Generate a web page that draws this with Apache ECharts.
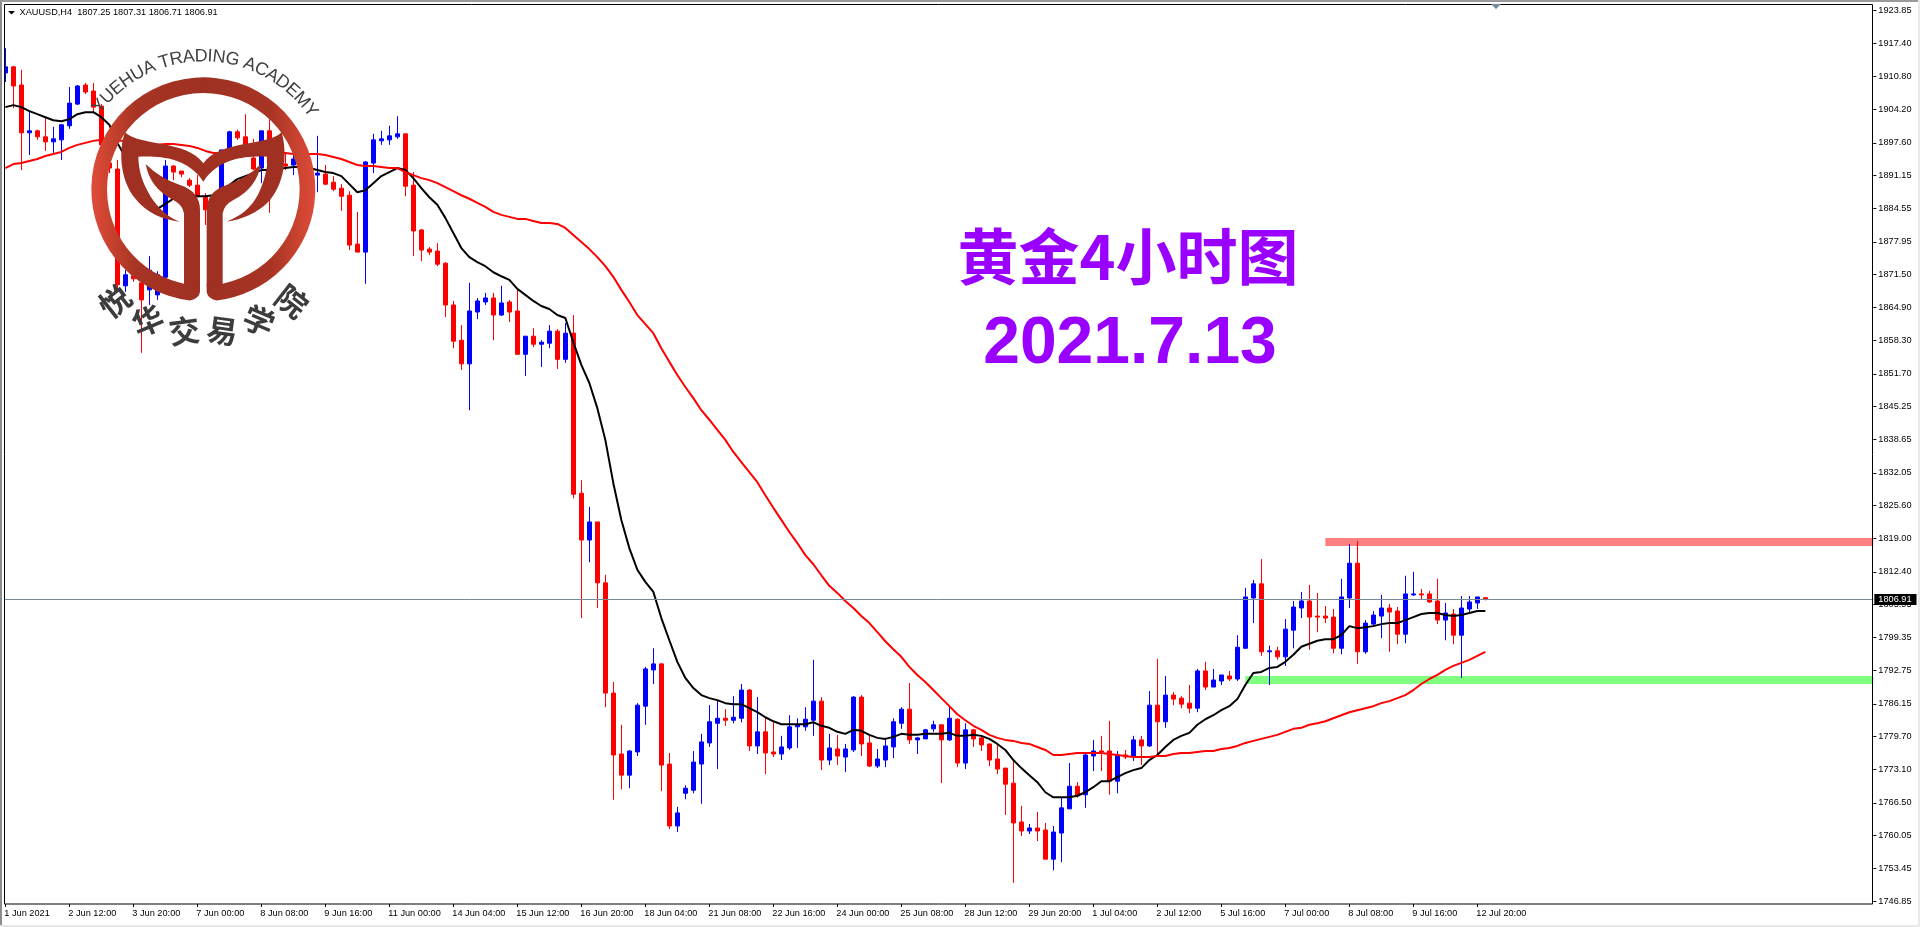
<!DOCTYPE html>
<html><head><meta charset="utf-8"><title>XAUUSD H4</title>
<style>html,body{margin:0;padding:0;background:#fff}#c{width:1920px;height:927px}</style>
<script src="https://cdn.jsdelivr.net/npm/echarts@6/dist/echarts.min.js"></script></head>
<body><div id="c"></div><script>
const opens=[1911.5,1912.7,1909.1,1899.6,1900.0,1898.8,1897.8,1898.2,1901.0,1905.3,
1909.1,1907.9,1904.9,1893.6,1892.4,1869.2,1871.2,1869.8,1868.4,1867.4,
1870.9,1893.0,1892.0,1890.2,1889.2,1886.8,1885.3,1888.2,1895.8,1899.8,
1898.8,1894.6,1892.6,1900.0,1891.2,1893.4,1893.2,1894.2,1891.8,1891.2,
1891.4,1889.8,1888.6,1887.2,1877.5,1875.9,1893.6,1898.0,1898.2,1898.8,
1899.4,1889.2,1880.3,1876.5,1876.1,1873.7,1865.4,1858.4,1853.7,1864.0,
1866.0,1866.8,1863.4,1866.0,1864.2,1855.6,1859.2,1857.6,1857.8,1860.2,
1854.6,1859.8,1828.0,1818.7,1822.3,1810.2,1788.3,1776.2,1772.0,1776.6,
1785.7,1792.9,1794.1,1774.2,1761.9,1768.4,1769.0,1774.2,1778.4,1782.3,
1783.3,1782.9,1783.3,1788.9,1777.8,1780.6,1776.6,1776.2,1777.4,1781.6,
1781.6,1782.9,1786.7,1775.0,1777.2,1775.6,1777.0,1787.5,1778.4,1773.8,
1775.0,1777.6,1782.3,1785.1,1779.0,1779.2,1781.2,1782.0,1779.0,1783.1,
1774.4,1781.0,1779.4,1778.2,1775.2,1773.4,1770.4,1762.7,1760.9,1761.5,
1761.1,1755.3,1760.5,1765.3,1769.8,1768.1,1775.8,1776.8,1776.8,1770.8,
1776.0,1775.8,1779.0,1777.8,1785.9,1782.6,1787.9,1787.3,1786.3,1785.3,
1792.7,1789.5,1790.7,1791.7,1791.1,1797.2,1807.2,1810.0,1796.5,1796.7,
1795.5,1800.8,1805.2,1806.6,1803.6,1803.6,1803.4,1797.2,1807.2,1814.1,
1796.5,1802.0,1803.6,1805.2,1804.6,1800.0,1807.8,1808.0,1808.0,1806.6,
1802.8,1804.0,1799.8,1805.0,1806.2,1807.25];
const closes=[1912.7,1908.9,1899.6,1900.0,1898.8,1897.8,1898.4,1901.2,1905.5,1908.9,
1907.7,1904.7,1897.2,1892.6,1869.4,1871.4,1870.6,1866.4,1872.3,1871.4,
1893.0,1891.8,1891.4,1889.2,1887.0,1884.3,1884.3,1896.2,1899.8,1898.6,
1896.2,1892.4,1900.0,1891.0,1892.6,1893.0,1894.4,1892.6,1893.0,1891.6,
1889.4,1888.4,1887.0,1877.3,1875.9,1893.8,1898.2,1898.4,1899.0,1899.4,
1889.0,1880.1,1876.3,1875.9,1873.5,1865.4,1858.2,1853.7,1864.2,1866.2,
1866.8,1863.4,1865.8,1864.0,1855.6,1859.2,1857.6,1858.0,1860.2,1854.6,
1859.8,1827.8,1818.7,1822.3,1810.2,1788.3,1776.0,1772.0,1776.8,1785.9,
1793.1,1794.1,1774.0,1761.9,1764.5,1769.4,1774.6,1778.6,1782.6,1783.3,
1782.9,1783.5,1788.9,1777.8,1780.6,1776.4,1776.2,1777.6,1781.6,1782.0,
1783.1,1786.7,1775.0,1777.4,1775.8,1777.2,1787.5,1778.2,1773.8,1775.2,
1777.8,1782.6,1785.1,1779.0,1779.4,1781.0,1782.0,1779.0,1783.3,1774.4,
1781.0,1779.2,1778.0,1775.0,1773.2,1770.2,1762.5,1760.9,1761.5,1760.9,
1755.3,1760.7,1765.5,1769.8,1767.9,1776.0,1776.8,1776.6,1770.8,1776.0,
1775.6,1779.0,1777.8,1785.9,1782.6,1787.9,1787.1,1786.1,1785.3,1792.7,
1789.5,1790.9,1791.9,1791.1,1797.4,1807.4,1810.0,1796.5,1796.7,1795.5,
1801.0,1805.4,1806.6,1803.4,1803.4,1803.2,1797.2,1807.4,1814.1,1796.5,
1802.2,1803.8,1805.2,1804.4,1800.0,1808.0,1808.0,1807.8,1806.4,1802.8,
1804.2,1799.8,1805.2,1806.4,1807.4,1806.91];
const lows=[1909.7,1904.5,1892.2,1895.2,1898.2,1896.0,1895.6,1894.2,1900.4,1905.1,
1907.3,1903.5,1896.2,1891.6,1868.4,1868.0,1870.0,1855.9,1865.4,1866.4,
1870.7,1890.2,1890.8,1888.8,1886.8,1881.3,1883.5,1887.2,1895.2,1898.2,
1895.8,1892.2,1889.6,1883.7,1890.2,1892.2,1891.2,1891.8,1891.0,1887.8,
1889.2,1888.0,1884.1,1876.3,1875.9,1869.6,1891.6,1897.2,1897.2,1898.4,
1887.0,1875.1,1874.1,1875.3,1873.1,1863.0,1856.8,1852.5,1844.5,1862.6,
1865.4,1858.4,1863.2,1862.0,1855.6,1851.3,1857.0,1853.1,1856.8,1852.7,
1853.9,1827.0,1803.2,1814.3,1805.2,1785.5,1767.1,1769.2,1769.4,1775.8,
1782.0,1790.1,1768.8,1761.3,1760.7,1767.2,1768.4,1766.3,1777.6,1773.2,
1781.8,1782.3,1782.5,1776.8,1776.2,1772.2,1775.6,1775.0,1777.0,1777.4,
1780.8,1779.8,1773.0,1774.0,1774.0,1772.6,1776.6,1775.8,1773.6,1773.4,
1773.6,1775.4,1781.2,1778.2,1776.2,1779.2,1780.6,1770.4,1778.8,1773.6,
1773.2,1777.6,1776.8,1773.8,1772.2,1764.1,1750.6,1759.9,1760.3,1758.9,
1755.3,1753.1,1754.7,1765.3,1767.5,1765.5,1772.8,1772.8,1768.1,1768.4,
1775.2,1774.8,1774.0,1777.6,1776.0,1781.4,1785.9,1785.3,1784.3,1784.5,
1788.9,1789.5,1789.9,1790.7,1790.7,1797.2,1802.2,1795.7,1789.9,1794.9,
1793.7,1797.2,1803.2,1796.9,1800.4,1802.2,1796.2,1796.0,1805.2,1794.1,
1796.1,1801.6,1799.2,1796.5,1798.0,1798.2,1807.6,1807.0,1806.2,1802.0,
1798.8,1798.0,1791.3,1804.0,1805.0,1806.71];
const highs=[1916.4,1912.9,1912.1,1903.7,1900.2,1902.5,1900.8,1901.2,1908.7,1909.1,
1909.5,1909.5,1905.3,1894.2,1894.2,1872.4,1872.8,1871.4,1875.1,1872.1,
1894.2,1893.2,1892.0,1890.6,1891.2,1887.6,1885.7,1896.2,1900.0,1900.2,
1903.3,1898.4,1900.0,1902.3,1894.2,1895.8,1896.2,1896.2,1894.2,1899.0,
1893.2,1891.0,1889.4,1888.0,1883.9,1894.0,1899.4,1900.0,1901.0,1902.9,
1899.4,1891.8,1880.5,1876.9,1877.7,1873.9,1866.2,1861.4,1869.8,1866.8,
1867.8,1867.8,1869.2,1866.4,1868.4,1859.2,1860.8,1858.4,1861.4,1860.6,
1861.8,1863.4,1830.6,1825.3,1822.3,1811.8,1790.5,1782.0,1777.0,1786.3,
1793.5,1797.2,1794.3,1776.4,1765.7,1770.0,1776.8,1780.2,1785.9,1786.9,
1785.1,1787.7,1790.1,1789.1,1787.5,1783.5,1782.5,1779.8,1783.9,1783.3,
1785.5,1794.9,1787.5,1780.2,1780.0,1778.2,1787.7,1787.9,1779.8,1777.2,
1779.4,1783.3,1785.5,1790.3,1779.6,1781.2,1782.8,1782.0,1785.7,1783.3,
1782.3,1781.2,1780.0,1778.2,1778.2,1773.4,1775.0,1765.9,1762.3,1764.7,
1762.5,1761.9,1767.6,1774.4,1770.6,1776.2,1779.0,1779.8,1782.8,1776.8,
1777.0,1779.8,1779.8,1788.7,1795.1,1791.7,1788.5,1787.7,1789.9,1793.1,
1794.5,1793.1,1791.9,1792.7,1799.8,1809.2,1810.8,1814.9,1797.7,1797.5,
1803.0,1806.6,1808.4,1809.8,1808.2,1805.6,1805.0,1811.0,1817.9,1818.5,
1802.8,1804.6,1807.8,1806.0,1805.4,1811.6,1812.4,1809.0,1808.6,1811.0,
1806.2,1805.0,1807.6,1807.6,1807.4,1807.31];
const fastMA=[1904.7,1905.1,1904.7,1903.9,1903.3,1902.7,1902.1,1901.9,1902.3,1903.3,
1903.7,1903.7,1902.7,1901.2,1897.6,1894.8,1891.8,1889.8,1886.8,1884.5,
1885.5,1886.5,1886.8,1887.2,1887.0,1887.0,1887.2,1888.2,1889.2,1890.4,
1891.0,1891.6,1892.2,1892.2,1892.4,1892.6,1892.8,1892.8,1892.6,1892.2,
1891.8,1891.6,1891.0,1889.4,1887.8,1888.2,1889.6,1891.0,1891.8,1892.6,
1892.2,1890.6,1888.6,1886.8,1885.3,1882.7,1879.7,1876.7,1874.9,1873.9,
1873.1,1871.9,1871.1,1870.4,1868.6,1867.4,1866.2,1865.2,1864.6,1863.4,
1862.8,1858.0,1853.5,1849.9,1844.9,1838.6,1830.0,1822.7,1817.1,1812.8,
1810.4,1808.4,1803.2,1798.8,1794.5,1791.3,1789.3,1787.9,1787.3,1786.9,
1786.3,1786.1,1786.1,1785.3,1784.5,1783.5,1782.7,1782.1,1782.1,1782.1,
1782.1,1782.5,1781.8,1781.4,1780.6,1780.2,1781.0,1780.8,1780.0,1779.4,
1779.2,1779.6,1780.2,1780.0,1780.0,1780.2,1780.2,1780.2,1780.4,1779.8,
1779.8,1780.0,1779.8,1779.2,1778.2,1777.0,1775.0,1773.4,1772.0,1770.6,
1768.6,1767.6,1767.6,1767.6,1767.9,1768.6,1769.6,1770.8,1770.8,1771.6,
1772.4,1773.0,1773.4,1775.0,1776.0,1777.6,1779.0,1779.8,1780.4,1782.0,
1783.1,1783.9,1784.9,1785.7,1787.1,1789.9,1792.3,1792.5,1793.3,1793.5,
1794.5,1795.9,1797.5,1798.1,1798.7,1799.0,1799.0,1799.8,1801.6,1801.2,
1801.4,1801.6,1802.0,1802.2,1802.2,1802.8,1803.4,1804.0,1804.2,1804.2,
1803.8,1803.6,1803.8,1804.2,1804.6,1804.6];
const slowMA=[1892.6,1893.4,1893.6,1894.0,1894.4,1895.0,1895.4,1895.8,1896.6,1897.2,
1897.6,1898.0,1898.2,1898.2,1898.0,1898.0,1897.6,1897.6,1897.4,1897.2,
1897.4,1897.4,1897.2,1897.0,1896.6,1896.0,1895.6,1895.6,1895.6,1895.6,
1895.6,1895.6,1895.6,1895.6,1895.6,1895.6,1895.4,1895.4,1895.4,1895.4,
1895.2,1894.8,1894.4,1893.8,1893.2,1893.0,1893.0,1892.8,1892.6,1892.6,
1891.8,1891.2,1890.6,1890.2,1889.6,1888.8,1888.0,1887.2,1886.5,1885.7,
1884.9,1883.9,1883.3,1882.9,1882.5,1882.5,1882.1,1881.7,1881.7,1881.5,
1880.7,1879.3,1877.9,1876.5,1874.9,1873.1,1871.0,1868.4,1866.0,1863.4,
1861.6,1859.8,1856.8,1854.1,1851.5,1849.1,1846.9,1844.5,1842.6,1840.6,
1838.6,1836.2,1834.2,1832.2,1830.2,1827.6,1825.1,1822.7,1820.3,1818.1,
1815.7,1813.9,1811.7,1809.6,1808.2,1806.6,1805.2,1803.6,1802.2,1800.4,
1798.6,1797.0,1795.5,1793.5,1791.9,1790.5,1788.9,1787.3,1785.7,1784.1,
1782.9,1781.8,1781.0,1780.0,1779.4,1779.0,1778.8,1778.4,1778.2,1777.6,
1777.0,1776.0,1776.0,1776.2,1776.4,1776.4,1776.4,1776.4,1776.2,1776.0,
1775.8,1775.6,1775.6,1775.6,1775.8,1775.8,1776.2,1776.4,1776.4,1776.6,
1776.8,1776.8,1777.2,1777.4,1777.8,1778.4,1778.8,1779.2,1779.6,1780.0,
1780.6,1781.2,1781.4,1782.0,1782.3,1782.7,1783.3,1783.9,1784.5,1784.9,
1785.3,1785.7,1786.3,1786.7,1787.3,1787.9,1788.9,1790.1,1791.1,1791.9,
1792.9,1793.7,1794.3,1794.9,1795.7,1796.5];
const dateLabels=['1 Jun 2021','2 Jun 12:00','3 Jun 20:00','7 Jun 00:00','8 Jun 08:00','9 Jun 16:00','11 Jun 00:00','14 Jun 04:00','15 Jun 12:00','16 Jun 20:00','18 Jun 04:00','21 Jun 08:00','22 Jun 16:00','24 Jun 00:00','25 Jun 08:00','28 Jun 12:00','29 Jun 20:00','1 Jul 04:00','2 Jul 12:00','5 Jul 16:00','7 Jul 00:00','8 Jul 08:00','9 Jul 16:00','12 Jul 20:00'];
const priceTicks=[1923.85,1917.40,1910.80,1904.20,1897.60,1891.15,1884.55,1877.95,1871.50,1864.90,1858.30,1851.70,1845.25,1838.65,1832.05,1825.60,1819.00,1812.40,1805.95,1799.35,1792.75,1786.15,1779.70,1773.10,1766.50,1760.05,1753.45,1746.85];
const levelStarts=[165,155];
const levelTops=[1819.1,1791.7];
const levelBottoms=[1817.5,1790.1];
const levelColors=['#FF8080','#80FF80'];
const lastPrice=1806.91;
const headerText='XAUUSD,H4  1807.25 1807.31 1806.71 1806.91';
const titleLines=['黄金4小时图','2021.7.13'];
const academyEn='YUEHUA TRADING ACADEMY';
const academyCn='悦华交易学院';

const SLOTS=234;
const categories=Array.from({length:SLOTS},(_,i)=>(i%8===0&&dateLabels[i/8])||'');
const candles=opens.map((o,i)=>[o,closes[i],lows[i],highs[i]]);
const FONT='"Liberation Sans",Arial,sans-serif';
const showLabel=(i,v)=>v!=='';

const ringFill=new echarts.graphic.LinearGradient(0,0,1,0,[
 {offset:0,color:'#E04B3B'},{offset:.08,color:'#C9432F'},{offset:.2,color:'#A83424'},
 {offset:.5,color:'#9E3022'},{offset:.8,color:'#A83424'},{offset:.92,color:'#C9432F'},{offset:1,color:'#E04B3B'}]);
const DARK='#A03022';
const PATH_RING='M600 851L600 875Q598 895 570 901.6A336 336 0 1 1 650 901.6Q622 895 620 875L620 851L668 851A289 289 0 1 0 552 851Z';
const PATH_WING='M375 397C420 440 560 420 610 490C660 420 800 440 845 397C860 450 860 540 810 600C775 640 720 660 680 665C740 640 790 600 805 470C760 468 660 465 610 545C560 465 460 468 415 470C415 550 470 640 540 665C490 660 440 640 405 595C360 540 355 450 375 397Z';
const PATH_STEM_L='M552 860L552 640Q548 615 520 600Q450 565 437 492Q480 535 540 555Q600 575 600 630L600 860Z';
const PATH_STEM_R='M668 860L668 640Q672 615 700 600Q770 565 783 492Q740 535 680 555Q620 575 620 630L620 860Z';
const LX=203.3,LY=189.3;

function logoChildren(){
  const kids=[{type:'group',scaleX:1/3,scaleY:1/3,children:[
    {type:'path',shape:{pathData:PATH_RING},style:{fill:ringFill}},
    {type:'path',shape:{pathData:PATH_WING},style:{fill:DARK}},
    {type:'path',shape:{pathData:PATH_STEM_L},style:{fill:DARK}},
    {type:'path',shape:{pathData:PATH_STEM_R},style:{fill:DARK}}]}];
  const ctx=document.createElement('canvas').getContext('2d');
  const enFont='18px '+FONT;ctx.font=enFont;
  const total=ctx.measureText(academyEn).width,R=133;
  const span=110*Math.PI/180;
  let adv=0;
  for(const ch of academyEn){
    const w=ctx.measureText(ch).width;
    const t=((adv+w/2)/total-.5)*span+1.2*Math.PI/180;adv+=w;
    kids.push({type:'text',x:LX+R*Math.sin(t),y:LY-R*Math.cos(t),rotation:-t,
      style:{text:ch,font:enFont,fill:'#404040',align:'center',verticalAlign:'middle'}});
  }
  const cnFont='bold 31px "Noto Sans CJK SC"';
  [...academyCn].forEach((ch,i)=>{
    const t=(i-2.5)*15.3*Math.PI/180,r=142.7;
    kids.push({type:'text',x:LX+r*Math.sin(t),y:LY+r*Math.cos(t),rotation:-t,
      style:{text:ch,font:cnFont,fill:'#3C3C3C',align:'center',verticalAlign:'middle'}});
  });
  return kids;
}

const chart=echarts.init(document.getElementById('c'),null,{renderer:'canvas',width:1920,height:927});
chart.setOption({
 animation:false,backgroundColor:'#fff',
 grid:{left:1.33,top:4.5,width:8*SLOTS,height:899.5,containLabel:false},
 xAxis:{type:'category',data:categories,boundaryGap:true,
  axisLine:{show:false},
  axisTick:{show:true,alignWithLabel:true,interval:showLabel,length:3,lineStyle:{color:'#000',width:1}},
  axisLabel:{show:true,interval:showLabel,align:'left',margin:5,padding:[0,0,0,-1],hideOverlap:false,color:'#000',fontFamily:FONT,fontSize:9.2},
  splitLine:{show:false}},
 yAxis:{type:'value',position:'right',min:1746.40,max:1925.09,scale:true,
  axisLine:{show:false},splitLine:{show:false},
  axisTick:{show:true,length:3,customValues:priceTicks,lineStyle:{color:'#000',width:1}},
  axisLabel:{show:true,margin:5,customValues:priceTicks,formatter:v=>v.toFixed(2),color:'#000',fontFamily:FONT,fontSize:9.2}},
 graphic:{elements:[
  {type:'rect',z:100,shape:{x:0,y:0,width:4,height:927},style:{fill:'#fff'}},
  {type:'rect',z:101,shape:{x:0,y:0,width:2,height:927},style:{fill:'#8C8C8C'}},
  {type:'rect',z:101,shape:{x:0,y:0,width:1920,height:2},style:{fill:'#9A9A9A'}},
  {type:'rect',z:101,shape:{x:1918,y:0,width:2,height:927},style:{fill:'#E8E8E8'}},
  {type:'rect',z:101,shape:{x:0,y:925,width:1920,height:2},style:{fill:'#E8E8E8'}},
  {type:'rect',z:102,shape:{x:4.5,y:4.5,width:1868,height:899.5},style:{fill:null,stroke:'#000',lineWidth:1}},
  {type:'polygon',z:103,shape:{points:[[8,11],[15,11],[11.5,14.5]]},style:{fill:'#000'}},
  {type:'polygon',z:103,shape:{points:[[1491,4],[1501,4],[1496,9]]},style:{fill:'#778899'}},
  {type:'text',z:103,x:19.5,y:12.7,style:{text:headerText,fill:'#000',font:'9.2px '+FONT,verticalAlign:'middle',align:'left'}},
  {type:'text',z:60,x:1128,y:257,style:{text:titleLines[0],fill:'#9900FF',font:'bold 61px "Noto Sans CJK SC"',align:'center',verticalAlign:'middle'}},
  {type:'text',z:60,x:1130,y:345,style:{text:titleLines[1],fill:'#9900FF',font:'bold 66px '+FONT,align:'center',verticalAlign:'middle'}}
 ]},
 series:[
  {type:'custom',name:'levels',z:1,clip:false,silent:true,
   data:levelStarts.map((s,i)=>[s,levelTops[i],levelBottoms[i]]),
   encode:{x:0,y:[1,2]},
   renderItem:(p,api)=>{
     const a=api.coord([api.value(0),api.value(1)]),b=api.coord([api.value(0),api.value(2)]);
     return {type:'rect',shape:{x:a[0],y:a[1],width:p.coordSys.x+p.coordSys.width-a[0],height:b[1]-a[1]},
       style:{fill:levelColors[p.dataIndex]}};
   },
   markLine:{silent:true,symbol:'none',animation:false,
    lineStyle:{color:'#778899',type:'solid',width:1},
    label:{show:true,position:'end',distance:1,formatter:lastPrice.toFixed(2),color:'#fff',backgroundColor:'#000',
      fontFamily:FONT,fontSize:9.2,padding:[1,5,1,4]},
    data:[{yAxis:lastPrice}]}},
  {type:'candlestick',name:'XAUUSD',z:2,barWidth:4,data:candles,clip:true,
   itemStyle:{color:'#0000FF',color0:'#FF0000',borderColor:'#0000FF',borderColor0:'#FF0000',borderWidth:1}},
  {type:'line',name:'Fast MA',z:3,data:fastMA,showSymbol:false,symbol:'none',smooth:false,lineStyle:{color:'#000',width:2}},
  {type:'line',name:'Slow MA',z:4,data:slowMA,showSymbol:false,symbol:'none',smooth:false,lineStyle:{color:'#FF0000',width:2}},
  {type:'custom',name:'logo',coordinateSystem:'none',z:10,silent:true,data:[0],
   renderItem:()=>({type:'group',children:logoChildren()})}
 ]
});
</script></body></html>
